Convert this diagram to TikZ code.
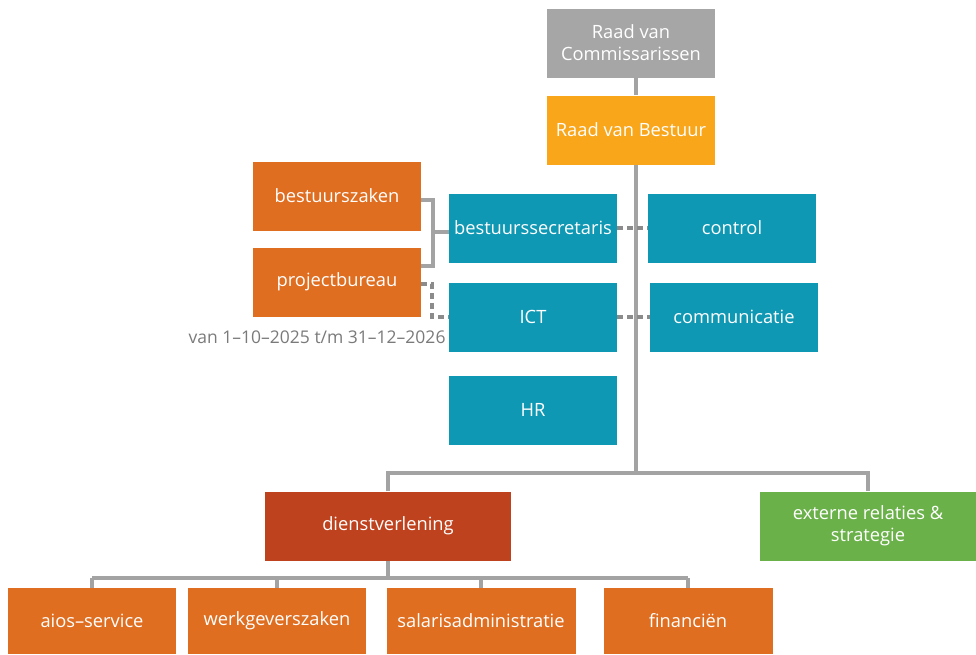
\documentclass[tikz,border=0pt]{standalone}
\usepackage{fontspec}
\setmainfont{Open Sans}
\usetikzlibrary{positioning,calc}
\definecolor{boardgray}{HTML}{A6A6A6}
\definecolor{boardamber}{HTML}{F9A61B}
\definecolor{unitorange}{HTML}{E06E21}
\definecolor{staffteal}{HTML}{0F98B4}
\definecolor{servicered}{HTML}{BF421F}
\definecolor{extgreen}{HTML}{6BB14A}
\definecolor{linegray}{HTML}{A3A3A3}
\definecolor{labelgray}{HTML}{7A7A7A}

\begin{document}
\begin{tikzpicture}[x=1pt,y=-1pt,
    box/.style={minimum width=168pt,minimum height=69pt,inner sep=2pt,text=white,align=center,font=\fontsize{18.3}{22}\selectfont},
    link/.style={draw=linegray,line width=3.5pt},
    dlink/.style={link,draw=linegray!85!black,dash pattern=on 6pt off 4pt}]
    \useasboundingbox (0,0) rectangle (976,654);
    \clip (0,0) rectangle (976,654);

    % Board
    \node[box,fill=boardgray] (rvc) at (631,43) {Raad van\\Commissarissen};
    \node[box,fill=boardamber] (rvb) at (631,130) {Raad van Bestuur};

    % Staff units
    \node[box,fill=unitorange] (bestuurszaken) at (337,196) {bestuurszaken};
    \node[box,fill=unitorange] (projectbureau) at (337,282) {projectbureau};
    \node[anchor=east,text=labelgray,font=\fontsize{17.5}{20}\selectfont] (periode) at (449,337) {van 1--10--2025 t/m 31--12--2026};
    \node[box,fill=staffteal] (secretaris) at (533,228) {bestuurssecretaris};
    \node[box,fill=staffteal] (control) at (732,228) {control};
    \node[box,fill=staffteal] (ict) at (533,317) {ICT};
    \node[box,fill=staffteal] (communicatie) at (734,317) {communicatie};
    \node[box,fill=staffteal] (hr) at (533,410) {HR};

    % Line organisation
    \node[box,fill=servicered,minimum width=246pt] (dienst) at (388,526) {dienstverlening};
    \node[box,fill=extgreen,minimum width=216pt] (extern) at (868,526) {externe relaties \&\\strategie};
    \node[box,fill=unitorange,minimum height=66pt] (aios) at (92,621) {aios--service};
    \node[box,fill=unitorange,minimum height=66pt,minimum width=178pt] (werkgever) at (277,621) {werkgeverszaken};
    \node[box,fill=unitorange,minimum height=66pt,minimum width=189pt] (salaris) at (481,621) {salarisadministratie};
    \node[box,fill=unitorange,minimum height=66pt,minimum width=169pt] (financien) at (688,621) {financiën};

    % Trunk
    \coordinate (trunk) at (636,473);
    \draw[link] ([xshift=5pt]rvc.south) -- ([xshift=5pt]rvb.north);
    \draw[link] ([xshift=5pt]rvb.south) -- (trunk);
    \draw[link] (dienst.north) |- (trunk) -| (extern.north);

    % Staff connections
    \draw[dlink] (secretaris.east) -- (control.west);
    \draw[dlink] (ict.east) -- (communicatie.west);
    \coordinate (bracket) at (433,232);
    \draw[link] ($(bestuurszaken.east)+(0,4)$) -| (bracket) |- ($(projectbureau.east)+(0,-16)$);
    \draw[link] (bracket) -- (secretaris.west |- bracket);
    \draw[dlink] ($(projectbureau.east)+(0,2)$) -| ($(ict.west)+(-17,0)$) -- (ict.west);

    % Services
    \coordinate (bus) at (388,578);
    \draw[link] (dienst.south) -- (bus);
    \draw[link] (aios.north |- bus) -- (financien.north |- bus);
    \foreach \unit in {aios,werkgever,salaris,financien}
        \draw[link] (\unit.north) -- (\unit.north |- bus);
\end{tikzpicture}
\end{document}
